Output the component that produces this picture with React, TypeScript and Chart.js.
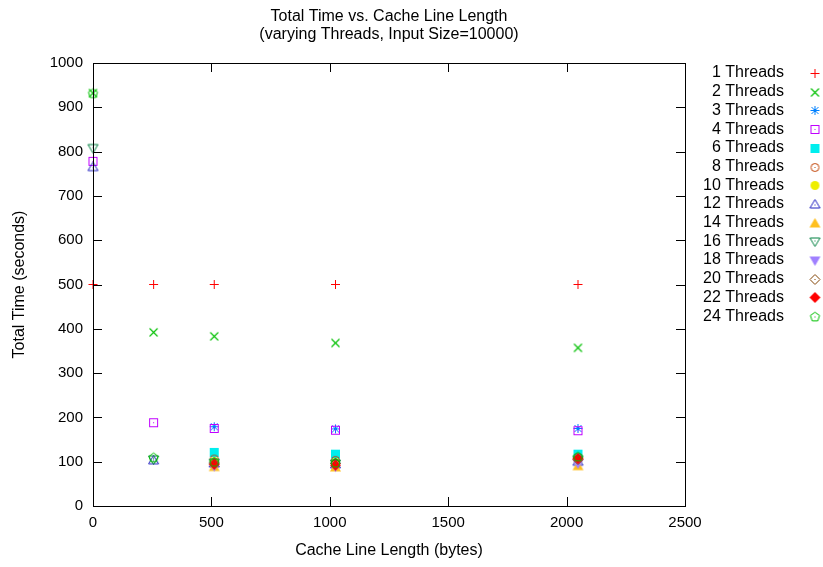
import React, { useEffect, useRef } from "react";
import { Chart, registerables } from "chart.js";

Chart.register(...registerables);

const cacheLengths = [0, 256, 512, 1024, 2048];
const threadCounts = [1, 2, 3, 4, 6, 8, 10, 12, 14, 16, 18, 20, 22, 24];

const t1 = [500, 500, 500, 500, 500];
const t2 = [932, 392, 383, 368, 357];
const t3 = [null, null, 179, 174, 175];
const t4 = [778, 188, 175, 171, 170];
const t6 = [null, null, 121, 117, 117];
const t8 = [null, null, 106, 103, 110];
const t10 = [null, null, 100, 98, 104];
const t12 = [765, 103, 96, 94, 100];
const t14 = [null, null, 88, 87, 90];
const t16 = [808, 105, 98, 96, 104];
const t18 = [null, null, 90, 89, 96];
const t20 = [null, null, 97, 96, 105];
const t22 = [null, null, 94, 92, 107];
const t24 = [932, 110, 100, 98, 112];

const seriesValues = [t1, t2, t3, t4, t6, t8, t10, t12, t14, t16, t18, t20, t22, t24];

const colors = [
  "#ff0000", "#00c000", "#0080ff", "#c000ff", "#00eeee", "#c04000", "#eeee00",
  "#2020c0", "#ffc020", "#008040", "#a080ff", "#804000", "#ff0000", "#00c000",
];
const markerKinds = [
  "plus", "cross", "star", "squareDot", "squareFill", "circleDot", "circleFill",
  "triUp", "triUpFill", "triDown", "triDownFill", "diamond", "diamondFill", "pentagon",
];

const xTickValues = [0, 500, 1000, 1500, 2000, 2500];
const yTickValues = [0, 100, 200, 300, 400, 500, 600, 700, 800, 900, 1000];

const FONT = '"Liberation Sans", Arial, Helvetica, sans-serif';

function makeMarker(kind: string, color: string): HTMLCanvasElement {
  const size = 13;
  const cv = document.createElement("canvas");
  cv.width = size;
  cv.height = size;
  const ctx = cv.getContext("2d")!;
  const c = size / 2;
  ctx.strokeStyle = color;
  ctx.fillStyle = color;
  ctx.lineWidth = 1;
  const poly = (pts: number[][], fill: boolean) => {
    ctx.beginPath();
    pts.forEach((p, i) => (i === 0 ? ctx.moveTo(p[0], p[1]) : ctx.lineTo(p[0], p[1])));
    ctx.closePath();
    if (fill) ctx.fill();
    else ctx.stroke();
  };
  const r = 4.5;
  switch (kind) {
    case "plus":
      ctx.beginPath();
      ctx.moveTo(c - r, c); ctx.lineTo(c + r, c);
      ctx.moveTo(c, c - r); ctx.lineTo(c, c + r);
      ctx.stroke();
      break;
    case "cross":
      ctx.lineWidth = 1.1;
      ctx.beginPath();
      ctx.moveTo(c - 4, c - 4); ctx.lineTo(c + 4, c + 4);
      ctx.moveTo(c - 4, c + 4); ctx.lineTo(c + 4, c - 4);
      ctx.stroke();
      break;
    case "star":
      ctx.beginPath();
      ctx.moveTo(c - r, c); ctx.lineTo(c + r, c);
      ctx.moveTo(c, c - r); ctx.lineTo(c, c + r);
      ctx.moveTo(c - 3.5, c - 3.5); ctx.lineTo(c + 3.5, c + 3.5);
      ctx.moveTo(c - 3.5, c + 3.5); ctx.lineTo(c + 3.5, c - 3.5);
      ctx.stroke();
      break;
    case "squareDot":
      ctx.strokeRect(c - 4, c - 4, 8, 8);
      ctx.fillRect(c - 0.5, c - 0.5, 1, 1);
      break;
    case "squareFill":
      ctx.fillRect(c - 4.5, c - 4.5, 9, 9);
      break;
    case "circleDot":
      ctx.beginPath();
      ctx.arc(c, c, 4, 0, Math.PI * 2);
      ctx.stroke();
      ctx.fillRect(c - 0.5, c - 0.5, 1, 1);
      break;
    case "circleFill":
      ctx.beginPath();
      ctx.arc(c, c, 4.5, 0, Math.PI * 2);
      ctx.fill();
      break;
    case "triUp":
      poly([[c, c - 5], [c - 5, c + 3.5], [c + 5, c + 3.5]], false);
      ctx.fillRect(c - 0.5, c, 1, 1);
      break;
    case "triUpFill":
      poly([[c, c - 5.5], [c - 5.5, c + 4], [c + 5.5, c + 4]], true);
      break;
    case "triDown":
      poly([[c, c + 5], [c - 5, c - 3.5], [c + 5, c - 3.5]], false);
      ctx.fillRect(c - 0.5, c - 1, 1, 1);
      break;
    case "triDownFill":
      poly([[c, c + 5.5], [c - 5.5, c - 4], [c + 5.5, c - 4]], true);
      break;
    case "diamond":
      poly([[c, c - 5], [c + 5, c], [c, c + 5], [c - 5, c]], false);
      ctx.fillRect(c - 0.5, c - 0.5, 1, 1);
      break;
    case "diamondFill":
      poly([[c, c - 5.5], [c + 5.5, c], [c, c + 5.5], [c - 5.5, c]], true);
      break;
    case "pentagon": {
      const pts: number[][] = [];
      for (let i = 0; i < 5; i++) {
        const a = -Math.PI / 2 + (i * 2 * Math.PI) / 5;
        pts.push([c + 4.8 * Math.cos(a), c + 0.5 + 4.8 * Math.sin(a)]);
      }
      poly(pts, false);
      ctx.fillRect(c - 0.5, c, 1, 1);
      break;
    }
  }
  return cv;
}

export default function App() {
  const canvasRef = useRef<HTMLCanvasElement | null>(null);

  useEffect(() => {
    document.body.style.margin = "0";
    const markers = markerKinds.map((k, i) => makeMarker(k, colors[i]));

    const datasets = threadCounts.map((t, i) => ({
      label: `${t} Threads`,
      data: cacheLengths
        .map((x, j) => ({ x, y: seriesValues[i][j] }))
        .filter((p) => p.y !== null),
      pointStyle: markers[i] as any,
      pointRadius: 5,
      showLine: false,
      clip: false as any,
      order: threadCounts.length - 1 - i,
    }));

    const framePlugin = {
      id: "gnuFrame",
      afterDraw(chart: any) {
        const { ctx, chartArea: a } = chart;
        const xs = chart.scales.x;
        const ys = chart.scales.y;
        ctx.save();
        ctx.strokeStyle = "#000";
        ctx.lineWidth = 1;
        ctx.beginPath();
        const tl = 9;
        yTickValues.forEach((v) => {
          const py = Math.round(ys.getPixelForValue(v)) + 0.5;
          ctx.moveTo(a.left, py); ctx.lineTo(a.left + tl, py);
          ctx.moveTo(a.right, py); ctx.lineTo(a.right - tl, py);
        });
        xTickValues.forEach((v) => {
          const px = Math.round(xs.getPixelForValue(v)) + 0.5;
          ctx.moveTo(px, a.bottom); ctx.lineTo(px, a.bottom - tl);
          ctx.moveTo(px, a.top); ctx.lineTo(px, a.top + tl);
        });
        ctx.stroke();
        ctx.strokeRect(Math.round(a.left) + 0.5, Math.round(a.top) + 0.5,
          Math.round(a.right - a.left), Math.round(a.bottom - a.top));

        // titles
        ctx.fillStyle = "#000";
        ctx.font = `16px ${FONT}`;
        ctx.textAlign = "center";
        ctx.textBaseline = "middle";
        const cx = (a.left + a.right) / 2;
        ctx.fillText("Total Time vs. Cache Line Length", cx, 17);
        ctx.fillText("(varying Threads, Input Size=10000)", cx, 35);
        ctx.fillText("Cache Line Length (bytes)", cx, 551);
        ctx.save();
        ctx.translate(20, (a.top + a.bottom) / 2);
        ctx.rotate(-Math.PI / 2);
        ctx.fillText("Total Time (seconds)", 0, 0);
        ctx.restore();

        // legend
        ctx.textAlign = "right";
        chart.data.datasets.forEach((ds: any, i: number) => {
          const y = 73 + i * 18.7;
          ctx.fillText(ds.label, 784, y);
          const m = markers[i];
          ctx.drawImage(m, 815 - m.width / 2, Math.round(y) - m.height / 2 + 0.5);
        });
        ctx.restore();
      },
    };

    const tickFont = { family: FONT, size: 15 };

    const chart = new Chart(canvasRef.current!, {
      type: "scatter",
      data: { datasets },
      options: {
        animation: false,
        responsive: false,
        devicePixelRatio: 1,
        layout: { padding: { top: 63, right: 138, left: 0, bottom: 0 } },
        plugins: { legend: { display: false }, title: { display: false }, tooltip: { enabled: false } },
        scales: {
          x: {
            type: "linear",
            min: 0,
            max: 2500,
            afterFit: (s: any) => { s.height = 61; },
            afterBuildTicks: (s: any) => { s.ticks = xTickValues.map((v) => ({ value: v })); },
            grid: { display: false, drawTicks: false },
            border: { display: false },
            ticks: { color: "#000", font: tickFont, padding: 8, maxRotation: 0, callback: (v: any) => String(v) },
          },
          y: {
            type: "linear",
            min: 0,
            max: 1000,
            afterFit: (s: any) => { s.width = 93; },
            afterBuildTicks: (s: any) => { s.ticks = yTickValues.map((v) => ({ value: v })); },
            grid: { display: false, drawTicks: false },
            border: { display: false },
            ticks: { color: "#000", font: tickFont, padding: 10, callback: (v: any) => String(v) },
          },
        },
      },
      plugins: [framePlugin],
    });
    return () => chart.destroy();
  }, []);

  return (
    <div style={{ width: 823, height: 567 }}>
      <canvas ref={canvasRef} width={823} height={567} />
    </div>
  );
}
